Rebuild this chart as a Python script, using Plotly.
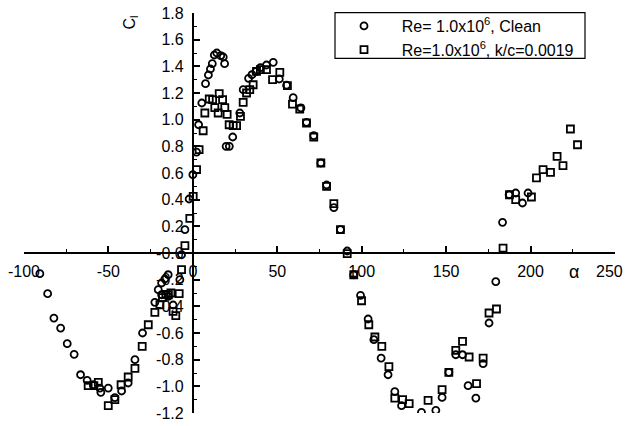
import plotly.graph_objects as go

# Clean, Re = 1.0e6
clean_alpha = [-90.6, -86.0, -82.3, -78.3, -74.4, -70.3, -66.5, -62.6, -59.0, -55.1, -54.5, -50.1,
               -46.2, -42.2, -38.3, -34.3, -29.8, -22.5, -20.5, -18.5, -16.6, -14.6, -18.5, -14.6,
               -11.7, -7.7, -6.7, -4.7, -2.2, 0.0, 2.2, 3.4, 5.3, 7.5, 9.2, 10.4, 11.5, 12.7, 14.2,
               16.5, 18.0, 18.8, 19.7, 21.6, 23.6, 27.8, 29.8, 33.0, 35.0, 37.3, 40.0, 43.6, 47.6,
               51.2, 55.5, 59.4, 64.0, 67.3, 71.6, 75.8, 79.2, 83.5, 87.4, 91.4, 95.3, 99.3, 103.8,
               107.2, 111.5, 115.6, 119.6, 123.6, 135.4, 143.9, 147.6, 151.6, 155.7, 159.7, 163.0,
               167.6, 171.9, 175.4, 179.4, 183.4, 187.3, 191.2, 195.2, 198.5]
clean_cl = [-0.155, -0.305, -0.488, -0.563, -0.680, -0.760, -0.913, -0.955, -0.988, -1.013, -1.045, -1.013,
            -1.085, -1.035, -0.975, -0.800, -0.600, -0.370, -0.275, -0.225, -0.195, -0.163, -0.313, -0.325,
            -0.390, -0.200, -0.013, 0.175, 0.405, 0.587, 0.757, 0.962, 1.125, 1.270, 1.335, 1.380, 1.420, 1.485, 1.500,
            1.480, 1.470, 1.420, 0.800, 0.800, 0.870, 1.050, 1.225, 1.310, 1.337, 1.360, 1.390, 1.410, 1.430,
            1.305, 1.258, 1.165, 1.088, 0.980, 0.880, 0.675, 0.510, 0.340, 0.175, 0.015, -0.163, -0.318, -0.495,
            -0.650, -0.788, -0.913, -1.040, -1.145, -1.195, -1.180, -1.083, -0.895, -0.763, -0.763, -0.995,
            -1.088, -0.830, -0.525, -0.215, 0.230, 0.437, 0.450, 0.375, 0.450]

# Rough, Re = 1.0e6, k/c = 0.0019
rough_alpha = [-62.0, -58.6, -56.0, -50.1, -46.2, -42.5, -38.3, -34.3, -30.0, -26.4, -22.5, -19.5,
               -18.0, -16.0, -13.0, -14.5, -11.7, -10.1, -8.1, -6.7, -4.7, -1.8, 0.2, 2.2, 3.7, 6.1,
               7.1, 9.7, 11.7, 13.0, 15.0, 15.6, 17.6, 18.9, 20.3, 21.5, 23.9, 25.9, 28.2, 29.8, 31.8,
               33.7, 35.7, 37.7, 40.0, 43.6, 47.2, 51.5, 56.0, 59.0, 63.3, 67.3, 71.6, 75.8, 79.2, 83.5,
               87.4, 91.4, 95.3, 99.9, 104.2, 107.8, 111.9, 116.1, 119.6, 124.2, 128.1, 139.3, 147.6,
               151.6, 155.7, 159.7, 163.6, 168.0, 171.9, 175.4, 179.8, 183.7, 187.5, 191.2, 200.5,
               203.5, 207.4, 211.8, 215.7, 219.2, 223.6, 227.8]
rough_cl = [-0.995, -0.995, -0.970, -1.145, -1.100, -0.988, -0.930, -0.865, -0.700, -0.538, -0.445, -0.388,
            -0.335, -0.310, -0.300, -0.313, -0.438, -0.470, -0.305, -0.125, 0.055, 0.260, 0.425, 0.625, 0.775, 0.917,
            1.050, 1.155, 1.150, 1.090, 1.050, 1.195, 1.150, 1.090, 1.040, 0.962, 0.955, 0.955, 1.025, 1.130, 1.200,
            1.225, 1.262, 1.362, 1.375, 1.375, 1.300, 1.355, 1.255, 1.117, 1.080, 0.975, 0.870, 0.675, 0.500, 0.370,
            0.175, -0.005, -0.163, -0.358, -0.538, -0.630, -0.700, -0.852, -1.088, -1.100, -1.130, -1.105, -1.025,
            -0.895, -0.730, -0.663, -0.780, -0.980, -0.788, -0.450, -0.420, 0.037, 0.437, 0.400, 0.420,
            0.563, 0.625, 0.605, 0.725, 0.655, 0.930, 0.812]

x_tickvals = [-100, -50, 0, 50, 100, 150, 200, 250]
x_ticktext = ["-100", "-50", "0", "50", "100", "150", "200", "250"]
y_tickvals = [1.8, 1.6, 1.4, 1.2, 1.0, 0.8, 0.6, 0.4, 0.2, 0.0, -0.2, -0.4, -0.6, -0.8, -1.0, -1.2]
y_ticktext = ["1.8", "1.6", "1.4", "1.2", "1.0", "0.8", "0.6", "0.4", "0.2", "-0.0",
              "-0.2", "-0.4", "-0.6", "-0.8", "-1.0", "-1.2"]

legend_names = ["Re= 1.0x10<sup>6</sup>, Clean", "Re=1.0x10<sup>6</sup>, k/c=0.0019"]

FONT = "Arial, Liberation Sans, sans-serif"
pad = "&nbsp;" * 4

fig = go.Figure()
fig.add_trace(go.Scatter(
    x=clean_alpha, y=clean_cl, mode="markers", name=pad + legend_names[0],
    marker=dict(symbol="circle-open", size=7, color="black", line=dict(width=1.8, color="black")),
))
fig.add_trace(go.Scatter(
    x=rough_alpha, y=rough_cl, mode="markers", name=pad + legend_names[1],
    marker=dict(symbol="square-open", size=7, color="black", line=dict(width=1.8, color="black")),
))

axis_common = dict(
    showgrid=False, zeroline=False, showline=True, linecolor="black", linewidth=2,
    ticks="inside", ticklen=6, tickwidth=1.5, tickcolor="black",
    tickfont=dict(family=FONT, size=16, color="black"),
    anchor="free", tickmode="array", ticklabeloverflow="allow", automargin=False,
)

W, H = 626, 426
L, R, T, B = 24, 11, 13, 13
PW, PH = W - L - R, H - T - B


def px_x(p):
    return (p - L) / PW


def px_y(p):
    return (H - B - p) / PH


# the last x tick label sits flush with the right edge, so it is placed
# right-aligned instead of centred on its tick
x_ticktext_axis = x_ticktext[:-1] + [""]

fig.update_layout(
    template="none",
    width=W, height=H,
    margin=dict(l=L, r=R, t=T, b=B, autoexpand=False),
    paper_bgcolor="white", plot_bgcolor="white",
    font=dict(family=FONT, size=16, color="black"),
    xaxis=dict(axis_common, range=[-100, 250], position=0.4, side="bottom",
               tickvals=x_tickvals, ticktext=x_ticktext_axis, ticklabelstandoff=4,
               minor=dict(tickvals=[-75, -25, 25, 75, 125, 175, 225], ticks="inside",
                          ticklen=3, tickwidth=1.2, tickcolor="black", showgrid=False)),
    yaxis=dict(axis_common, range=[-1.2, 1.8], position=100 / 350, side="left",
               tickvals=y_tickvals, ticktext=y_ticktext, ticklabelstandoff=5,
               minor=dict(tickvals=[1.7, 1.5, 1.3, 1.1, 0.9, 0.7, 0.5, 0.3, 0.1, -0.1, -0.3,
                                    -0.5, -0.7, -0.9, -1.1], ticks="inside",
                          ticklen=3, tickwidth=1.2, tickcolor="black", showgrid=False)),
    showlegend=True,
    legend=dict(x=px_x(344), y=px_y(9), xanchor="left", yanchor="top",
                bgcolor="rgba(0,0,0,0)", borderwidth=0,
                font=dict(family=FONT, size=16, color="black")),
    shapes=[dict(type="rect", xref="paper", yref="paper",
                 x0=px_x(335), x1=px_x(585), y0=px_y(58.3), y1=px_y(12.7),
                 line=dict(color="black", width=1.2), fillcolor="rgba(0,0,0,0)")],
    annotations=[
        dict(text="C<sub>l</sub>", xref="paper", yref="paper",
             x=px_x(119), y=px_y(14), showarrow=False, textangle=-90,
             font=dict(family=FONT, size=16, color="black")),
        dict(text="α", xref="paper", yref="paper",
             x=px_x(581), y=px_y(272), showarrow=False,
             font=dict(family=FONT, size=18, color="black")),
        dict(text=x_ticktext[-1], xref="paper", yref="y",
             x=px_x(625), y=0, xanchor="right", yanchor="top", yshift=-8,
             showarrow=False, font=dict(family=FONT, size=16, color="black")),
    ],
)

fig.write_html("out.html", config={"displayModeBar": False},
               post_script="document.body.style.margin='0';document.body.style.overflow='hidden';")
